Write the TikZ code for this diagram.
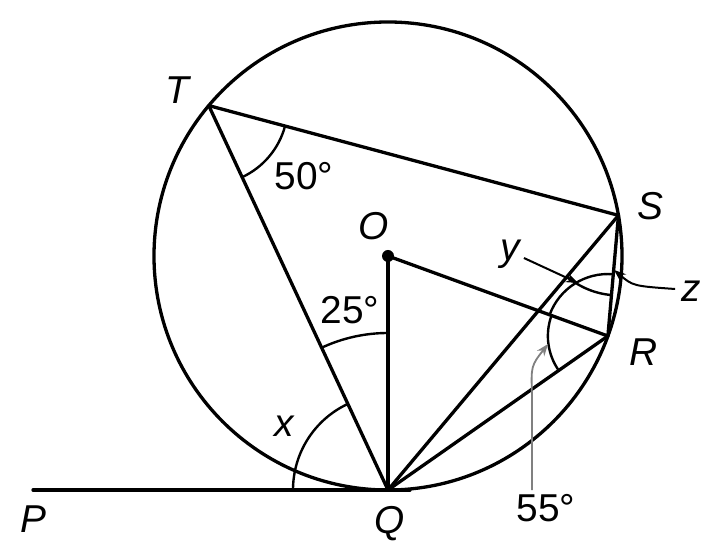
\documentclass[tikz,border=0pt]{standalone}
\usepackage{fontspec}
\setmainfont{Liberation Sans}
\usetikzlibrary{arrows.meta,calc}
\begin{document}
\begin{tikzpicture}[x=1bp,y=1bp,
  geo/.style={line width=3.3bp, line cap=round},
  anglearc/.style={line width=2.4bp},
  lab/.style={font=\fontsize{39}{44}\selectfont\itshape, inner sep=0pt},
  num/.style={font=\fontsize{39}{44}\selectfont, inner sep=0pt},
  lead/.style={line width=2bp, -{Stealth[length=12bp,width=9bp]}}]
\useasboundingbox (-388,-287) rectangle (316,256);
% points
\coordinate (O) at (0,0);
\coordinate (T) at (140:234);
\coordinate (S) at (10:234);
\coordinate (R) at (-20:234);
\coordinate (Q) at (0,-234);
\coordinate (P) at (-355,-234);
\coordinate (Qe) at (22,-234);
% circle and lines
\draw[geo] (O) circle (234);
\draw[geo] (P) -- (Qe);
\draw[geo] (T) -- (S);
\draw[geo] (T) -- (Q);
\draw[geo] (O) -- (Q);
\draw[geo] (O) -- (R);
\draw[geo] (Q) -- (S);
\draw[geo] (Q) -- (R);
\draw[geo] (S) -- (R);
\fill (O) circle (6);
% angle arcs
\draw[anglearc] ($(Q)+(115:95)$) arc[start angle=115, end angle=180, radius=95];
\draw[anglearc] ($(Q)+(90:157)$) arc[start angle=90, end angle=115, radius=157];
\draw[anglearc] ($(T)+(-65:79)$) arc[start angle=-65, end angle=-15, radius=79];
\draw[anglearc] ($(R)+(160:60)$) arc[start angle=160, end angle=215, radius=60];
\draw[anglearc] ($(R)+(85:62)$) arc[start angle=85, end angle=160, radius=62];
\draw[anglearc] ($(S)+(230:80)$) arc[start angle=230, end angle=265, radius=80];
% labels
\node[lab] (lT) at (-211,166) {T};
\node[lab] (lS) at (262,50) {S};
\node[lab] (lO) at (-14,30) {O};
\node[lab] (lR) at (256,-96) {R};
\node[lab] (lQ) at (2,-268) {Q};
\node[lab] (lP) at (-355,-263) {P};
\node[lab] (lx) at (-104,-170) {x};
\node[lab] (ly) at (122,2) {y};
\node[lab] (lz) at (303,-35) {z};
\node[num] (n25) at (-38,-54) {25°};
\node[num] (n50) at (-84,80) {50°};
\node[num] (n55) at (158,-252) {55°};
% leaders
\coordinate (yt) at (190,-27);
\coordinate (zt) at (226,-14);
\coordinate (ft) at (160,-88);
\draw[lead] (ly.east) ++(4,-4) -- (yt);
\draw[lead] (lz.west) ++(-6,2) .. controls (245,-30) .. (zt);
\draw[lead, gray, line width=1.8bp] (n55.north) ++(-14,4) -- (144,-140) .. controls (143,-110) .. (ft);
\end{tikzpicture}
\end{document}
